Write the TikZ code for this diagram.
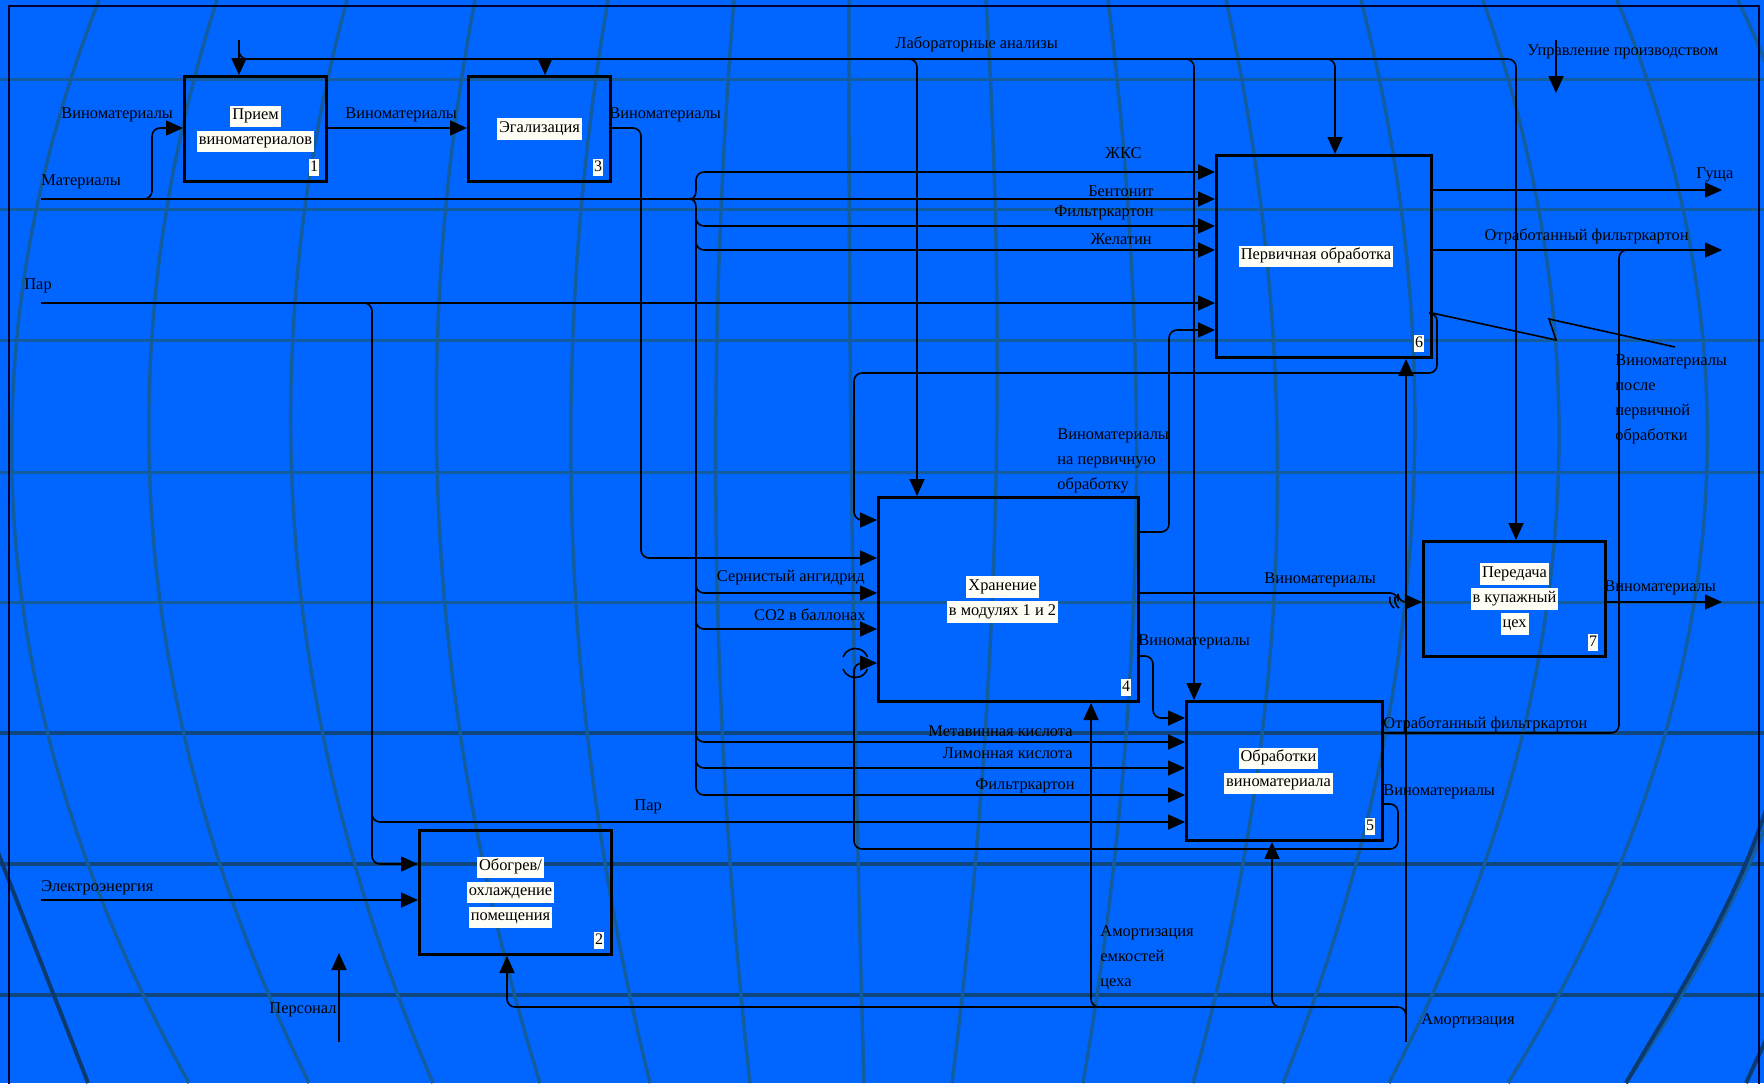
\documentclass[tikz,border=0pt]{standalone}
\usepackage{fontspec}
\setmainfont{Liberation Serif}
\usetikzlibrary{arrows.meta,calc}
\definecolor{sky}{HTML}{0066FF}
\definecolor{gridteal}{HTML}{135C9E}
\definecolor{gridlow}{HTML}{10467E}
\definecolor{globeedge}{HTML}{0D3A6E}
\definecolor{paper}{HTML}{FFFEF5}
\newcommand{\wl}[1]{{\setlength{\fboxsep}{1pt}\colorbox{paper}{\rule[-2.6pt]{0pt}{8.6pt}#1}}}
\newcommand{\nl}[1]{{\setlength{\fboxsep}{0.5pt}\colorbox{paper}{\rule[-1.6pt]{0pt}{7.5pt}#1}}}
\tikzset{
  actbox/.style={draw=black, line width=1.5pt, anchor=north west, inner sep=0pt},
  boxtext/.style={align=center, inner sep=0pt, font=\fontsize{8.2}{12.5}\selectfont},
  boxnum/.style={inner sep=0pt, font=\fontsize{8}{9}\selectfont},
  pipe/.style={draw=black, line width=0.8pt, rounded corners=4pt},
  flow/.style={pipe, -{Triangle[length=8.5pt,width=7.5pt]}},
  lbl/.style={inner sep=0pt, font=\fontsize{8.2}{12.5}\selectfont},
  mline/.style={draw=gridteal, line width=1.7pt},
  hgrid/.style={draw=gridteal, line width=1.5pt},
  hgridlow/.style={draw=gridlow, line width=1.8pt},
  rim/.style={draw=globeedge, line width=2pt},
}

\begin{document}
\begin{tikzpicture}[x=0.5pt, y=-0.5pt]
  \fill[sky] (0,0) rectangle (1764,1083);
  \useasboundingbox (0,0) rectangle (1764,1083);
  % globe in the background
  \begin{scope}
    \clip (0,0) rectangle (1764,1083);
    \foreach \ya in {79,209,340,472,602} \draw[hgrid] (0,\ya) -- (1764,\ya);
    \foreach \ya in {733,864,995} \draw[hgridlow] (0,\ya) -- (1764,\ya);
    \foreach \xa/\xm/\xb in {99/14/189, 217/152/309, 347/294/433, 475/439/540, 608/572/650,
        734/716/750, 849/852/864, 986/995/952, 1108/1136/1083, 1226/1277/1193,
        1361/1412/1283, 1483/1556/1389, 1617/1704/1508, 1738/1840/1626} {
      \pgfmathsetmacro\cx{(\xm-0.2704*\xa-0.2304*\xb)/0.4992}
      \pgfmathsetmacro\ca{\xa+2/3*(\cx-\xa)}
      \pgfmathsetmacro\cb{\xb+2/3*(\cx-\xb)}
      \draw[mline] (\xa,0) .. controls (\ca,361) and (\cb,722) .. (\xb,1083);
    }
    \draw[rim] (-30,780) .. controls (20,910) and (60,1010) .. (88,1083);
    \draw[rim] (1772,790) .. controls (1740,900) and (1680,990) .. (1626,1083);
    \draw[rim] (1775,1020) -- (1746,1083);
    \draw[black!80!blue, line width=0.7pt] (9,1090) -- (9,6) -- (1759,6) -- (1759,1090);
  \end{scope}

  \node[actbox, minimum width=71pt, minimum height=52.5pt] (b1) at (183,75) {};
  \node[actbox, minimum width=71pt, minimum height=52.5pt] (b3) at (467,75) {};
  \node[actbox, minimum width=107.5pt, minimum height=101pt] (b6) at (1215,154) {};
  \node[actbox, minimum width=130pt, minimum height=102pt] (b4) at (877,496) {};
  \node[actbox, minimum width=98pt, minimum height=69.5pt] (b5) at (1185,700) {};
  \node[actbox, minimum width=91pt, minimum height=57.5pt] (b7) at (1422,540) {};
  \node[actbox, minimum width=96pt, minimum height=62pt] (b2) at (418,829) {};

  \node[boxtext] (t1) at (b1.center) {\wl{Прием}\\\wl{виноматериалов}};
  \node[boxtext] (t3) at (b3.center) {\wl{Эгализация}};
  \node[boxtext] (t6) at ($(b6.center)+(-8,0)$) {\wl{Первичная обработка}};
  \node[boxtext] (t4) at ($(b4.center)+(-6,0)$) {\wl{Хранение}\\\wl{в модулях 1 и 2}};
  \node[boxtext] (t5) at ($(b5.center)+(-6,0)$) {\wl{Обработки}\\\wl{виноматериала}};
  \node[boxtext] (t7) at (b7.center) {\wl{Передача}\\\wl{в купажный}\\\wl{цех}};
  \node[boxtext] (t2) at ($(b2.center)+(-5,0)$) {\wl{Обогрев/}\\\wl{охлаждение}\\\wl{помещения}};
  \foreach \b/\n in {b1/1, b3/3, b6/6, b4/4, b5/5, b7/7, b2/2}
    \node[boxnum] (n\n) at ($(\b.south east)+(-14,-16)$) {\nl{\n}};

  \draw[flow] (41,199) -- ($(b6.north west)+(0,45)$);
  \draw[flow] (138,199) -| (152,128) -- ($(b1.north west)+(0,53)$);
  \draw[flow] ($(b1.north east)+(0,53)$) -- ($(b3.north west)+(0,53)$);
  \draw[flow] ($(b3.north east)+(0,53)$) -| (641,558) -- ($(b4.north west)+(0,62)$);
  \draw[flow] (41,303) -- ($(b6.north west)+(0,149)$);
  \draw[flow] (360,303) -| (372,864) -- ($(b2.north west)+(0,35)$);
  \draw[flow] (372,808) |- ($(b5.north west)+(0,122)$);
  \draw[flow] (41,900) -- ($(b2.north west)+(0,71)$);
  \coordinate (pers) at (339,1042);
  \draw[flow] (pers) -- ++(0,-89);
  \coordinate (upr) at (1556,40);
  \draw[flow] (upr) -- ++(0,53);

  \draw[flow] (239,40) -- ($(b1.north west)+(56,0)$);
  \draw[flow] (239,50) |- (1516,59) -- ($(b7.north west)+(94,0)$);
  \draw[flow] (537,59) -| ($(b3.north west)+(78,0)$);
  \draw[flow] (909,59) -| ($(b4.north west)+(40,0)$);
  \draw[flow] (1186,59) -| ($(b5.north west)+(9,0)$);
  \draw[flow] (1327,59) -| ($(b6.north west)+(120,0)$);

  \draw[pipe] (689,199) .. controls (694,199) and (696,196) .. (696,190);
  \draw[pipe] (689,199) .. controls (694,199) and (696,202) .. (696,208);
  \draw[flow] (696,190) |- ($(b6.north west)+(0,18)$);
  \draw[flow] (696,216) |- ($(b6.north west)+(0,72)$);
  \draw[flow] (696,240) |- ($(b6.north west)+(0,96)$);
  \draw[flow] (696,583) |- ($(b4.north west)+(0,97)$);
  \draw[flow] (696,619) |- ($(b4.north west)+(0,133)$);
  \draw[flow] (696,732) |- ($(b5.north west)+(0,42)$);
  \draw[flow] (696,758) |- ($(b5.north west)+(0,68)$);
  \draw[flow] (696,208) |- ($(b5.north west)+(0,95)$);

  \draw[flow] ($(b6.north east)+(0,36)$) -- (1722,190);
  \draw[flow] ($(b6.north east)+(0,96)$) -- (1722,250);
  \draw[pipe] ($(b5.north east)+(0,33)$) -| (1619,250) -- (1632,250);
  \draw[flow] ($(b6.north east)+(0,159)$) -- (1437,313) |- (854,373) |- ($(b4.north west)+(0,24)$);
  \draw[pipe, rounded corners=0pt] (1432,313) -- (1556,340) -- (1549,319) -- (1675,347);
  \draw[flow] ($(b4.north east)+(0,36)$) -| (1169,330) -- ($(b6.north west)+(0,176)$);
  \draw[flow] ($(b4.north east)+(0,97)$) -| (1398,602) -- ($(b7.north west)+(0,62)$);
  \draw[pipe] (1390,597) to[bend right=30] (1394,608);
  \draw[pipe] (1395,597) to[bend right=30] (1399,608);
  \draw[flow] ($(b7.north east)+(0,62)$) -- (1722,602);
  \draw[flow] ($(b4.north east)+(0,160)$) -| (1153,718) -- ($(b5.north west)+(0,18)$);
  \draw[flow] ($(b5.north east)+(0,104)$) -| (1398,849) -| (854,663) -- ($(b4.north west)+(0,167)$);
  \draw[pipe] (843,657) arc[start angle=200, end angle=340, radius=13];
  \draw[pipe] (843,669) arc[start angle=160, end angle=20, radius=13];

  \draw[flow] (1406,1042) -- ($(b6.south west)+(191,0)$);
  \draw[flow] (1406,1020) |- (507,1007) -- ($(b2.south west)+(89,0)$);
  \draw[flow] (1281,1007) -| ($(b5.south west)+(87,0)$);
  \draw[flow] (1100,1007) -| ($(b4.south west)+(214,0)$);

  \node[lbl, anchor=west] (lVin0) at (61,115) {Виноматериалы};
  \node[lbl, anchor=west] (lMat) at (41,182) {Материалы};
  \node[lbl, anchor=west] (lVin1) at (345,115) {Виноматериалы};
  \node[lbl, anchor=west] (lVin3) at (609,115) {Виноматериалы};
  \node[lbl, anchor=west] (lLab) at (895,44) {Лабораторные анализы};
  \node[lbl, anchor=east] (lZhks) at (1142,153) {ЖКС};
  \node[lbl, anchor=east] (lBent) at (1154,191) {Бентонит};
  \node[lbl, anchor=east] (lFk6) at (1154,213) {Фильтркартон};
  \node[lbl, anchor=east] (lGel) at (1152,239) {Желатин};
  \node[lbl, anchor=west] (lPar6) at (24,286) {Пар};
  \node[lbl, anchor=west] (lUpr) at (1527,52) {Управление производством};
  \node[lbl, anchor=west] (lGush) at (1696,175) {Гуща};
  \node[lbl, anchor=east] (lOtr6) at (1689,236) {Отработанный фильтркартон};
  \node[lbl, anchor=north west, align=left] (lVinP) at (1615,354) {Виноматериалы\\после\\первичной\\обработки};
  \node[lbl, anchor=north west, align=left] (lVinNa) at (1057,428) {Виноматериалы\\на первичную\\обработку};
  \node[lbl, anchor=east] (lSer) at (865,578) {Сернистый ангидрид};
  \node[lbl, anchor=east] (lCO) at (866,615) {СО2 в баллонах};
  \node[lbl, anchor=west] (lVin47) at (1264,580) {Виноматериалы};
  \node[lbl, anchor=west] (lVin7) at (1604,588) {Виноматериалы};
  \node[lbl, anchor=west] (lVin45) at (1138,642) {Виноматериалы};
  \node[lbl, anchor=west] (lOtr5) at (1383,724) {Отработанный фильтркартон};
  \node[lbl, anchor=west] (lVin5) at (1383,792) {Виноматериалы};
  \node[lbl, anchor=east] (lMeta) at (1073,731) {Метавинная кислота};
  \node[lbl, anchor=east] (lLim) at (1073,753) {Лимонная кислота};
  \node[lbl, anchor=east] (lFk5) at (1075,786) {Фильтркартон};
  \node[lbl, anchor=west] (lPar5) at (634,807) {Пар};
  \node[lbl, anchor=west] (lEl) at (41,888) {Электроэнергия};
  \node[lbl, anchor=east] (lPers) at (337,1010) {Персонал};
  \node[lbl, anchor=north west, align=left] (lAmE) at (1100,925) {Амортизация\\емкостей\\цеха};
  \node[lbl, anchor=west] (lAm) at (1421,1021) {Амортизация};
\end{tikzpicture}
\end{document}
